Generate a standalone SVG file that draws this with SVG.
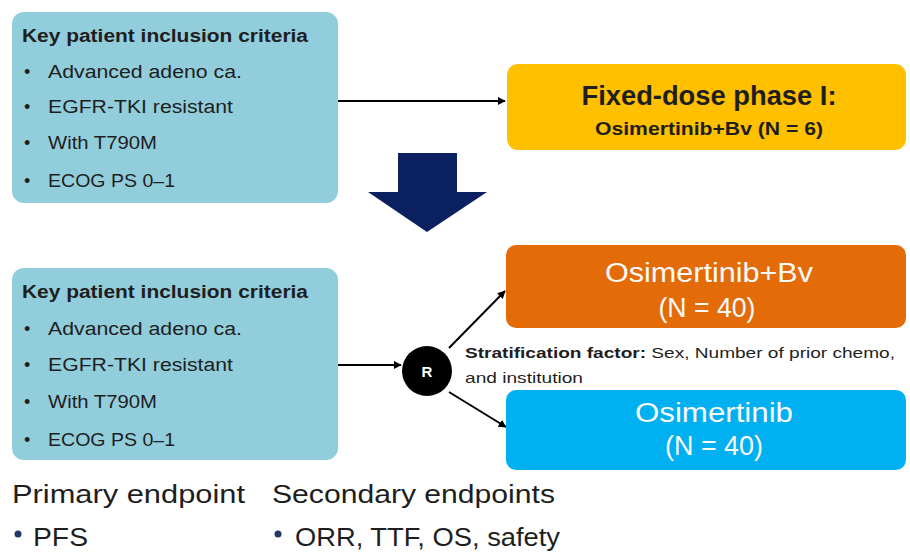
<svg xmlns="http://www.w3.org/2000/svg" width="910" height="558" viewBox="0 0 910 558">
<style>
text{font-family:"Liberation Sans",Arial,sans-serif;fill:#1e1e1e}
.crit{fill:#92CDDC}
.t{font-weight:bold;font-size:18px}
.b{font-size:18px}
.w{fill:#fafafa;font-size:27px;text-anchor:middle}
.ep{font-size:25px}
</style>
<defs>
<marker id="ah" viewBox="0 0 10 10" refX="9" refY="5" markerWidth="8" markerHeight="8" markerUnits="userSpaceOnUse" orient="auto"><path d="M0,0 L10,5 L0,10 z" fill="#000"/></marker>
</defs>
<rect width="910" height="558" fill="#fff"/>
<g id="connectors" stroke="#000" stroke-width="2" fill="none">
<line x1="338" y1="101" x2="505" y2="101" marker-end="url(#ah)"/>
<line x1="338" y1="365" x2="401" y2="365" marker-end="url(#ah)"/>
<line x1="449" y1="348" x2="505" y2="291" marker-end="url(#ah)"/>
<line x1="449" y1="392" x2="506" y2="427" marker-end="url(#ah)"/>
</g>
<g id="criteria1">
<rect class="crit" x="12" y="12" width="326" height="191" rx="12"/>
<text class="t" x="22" y="42" textLength="286" lengthAdjust="spacingAndGlyphs">Key patient inclusion criteria</text>
<text class="b" x="24" y="78">•</text><text class="b" x="48" y="78" textLength="194" lengthAdjust="spacingAndGlyphs">Advanced adeno ca.</text>
<text class="b" x="24" y="113">•</text><text class="b" x="48" y="113" textLength="185" lengthAdjust="spacingAndGlyphs">EGFR-TKI resistant</text>
<text class="b" x="24" y="149">•</text><text class="b" x="48" y="149" textLength="109" lengthAdjust="spacingAndGlyphs">With T790M</text>
<text class="b" x="24" y="187">•</text><text class="b" x="48" y="187" textLength="127" lengthAdjust="spacingAndGlyphs">ECOG PS 0–1</text>
</g>
<g id="phase1">
<rect x="507" y="64" width="399" height="86" rx="11" fill="#FFC000"/>
<text x="709" y="105" text-anchor="middle" font-weight="bold" font-size="27" textLength="255" lengthAdjust="spacingAndGlyphs">Fixed-dose phase I:</text>
<text x="709" y="135" text-anchor="middle" font-weight="bold" font-size="19" textLength="228" lengthAdjust="spacingAndGlyphs">Osimertinib+Bv (N = 6)</text>
</g>
<g id="bigArrow">
<path d="M398,153 H457 V192 H487 L427,232 L368,192 H398 Z" fill="#0B2060"/>
</g>
<g id="criteria2">
<rect class="crit" x="12" y="268" width="326" height="192" rx="12"/>
<text class="t" x="22" y="298" textLength="286" lengthAdjust="spacingAndGlyphs">Key patient inclusion criteria</text>
<text class="b" x="24" y="335">•</text><text class="b" x="48" y="335" textLength="194" lengthAdjust="spacingAndGlyphs">Advanced adeno ca.</text>
<text class="b" x="24" y="371">•</text><text class="b" x="48" y="371" textLength="185" lengthAdjust="spacingAndGlyphs">EGFR-TKI resistant</text>
<text class="b" x="24" y="408">•</text><text class="b" x="48" y="408" textLength="109" lengthAdjust="spacingAndGlyphs">With T790M</text>
<text class="b" x="24" y="446">•</text><text class="b" x="48" y="446" textLength="127" lengthAdjust="spacingAndGlyphs">ECOG PS 0–1</text>
</g>
<g id="R">
<circle cx="427" cy="371" r="25" fill="#000"/>
<text x="427" y="377" text-anchor="middle" font-weight="bold" font-size="15" style="fill:#fff">R</text>
</g>
<g id="armBv">
<rect x="506" y="245" width="400" height="83" rx="10" fill="#E36C09"/>
<text class="w" x="709" y="282" textLength="208" lengthAdjust="spacingAndGlyphs">Osimertinib+Bv</text>
<text class="w" x="707" y="317" textLength="97" lengthAdjust="spacingAndGlyphs">(N = 40)</text>
</g>
<g id="strat">
<text x="465" y="358" font-size="15" textLength="430" lengthAdjust="spacingAndGlyphs"><tspan font-weight="bold">Stratification factor:</tspan> Sex, Number of prior chemo,</text>
<text x="465" y="383" font-size="15" textLength="118" lengthAdjust="spacingAndGlyphs">and institution</text>
</g>
<g id="armOsi">
<rect x="506" y="390" width="400" height="80" rx="10" fill="#00B0F0"/>
<text class="w" x="714" y="422" textLength="158" lengthAdjust="spacingAndGlyphs">Osimertinib</text>
<text class="w" x="714" y="455" textLength="98" lengthAdjust="spacingAndGlyphs">(N = 40)</text>
</g>
<g id="endpoints">
<text class="ep" x="12" y="503" textLength="233" lengthAdjust="spacingAndGlyphs">Primary endpoint</text>
<text class="ep" x="272" y="503" textLength="283" lengthAdjust="spacingAndGlyphs">Secondary endpoints</text>
<circle cx="18" cy="534" r="3.5" fill="#1F3864"/>
<text class="ep" x="33" y="546" textLength="55" lengthAdjust="spacingAndGlyphs">PFS</text>
<circle cx="278" cy="534" r="3.5" fill="#1F3864"/>
<text class="ep" x="295" y="546" textLength="265" lengthAdjust="spacingAndGlyphs">ORR, TTF, OS, safety</text>
</g>
</svg>
